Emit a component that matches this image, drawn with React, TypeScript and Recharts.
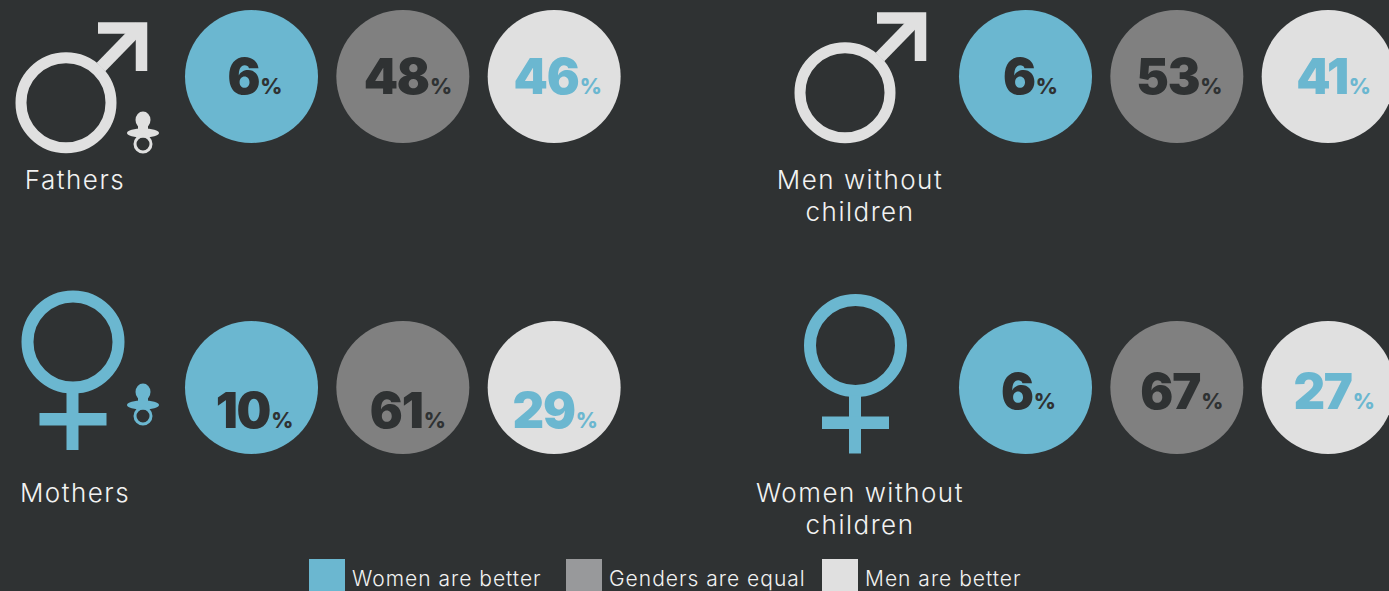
import React from 'react';
import { BarChart, Bar, XAxis, YAxis, Cell } from 'recharts';

const opinions = ['Women are better', 'Genders are equal', 'Men are better'];
const fathers = [6, 48, 46];
const menNoKids = [6, 53, 41];
const mothers = [10, 61, 29];
const womenNoKids = [6, 67, 27];

const BG = '#2f3233';
const BLUE = '#6bb7d0';
const GREY = '#808080';
const LIGHT = '#e0e0e0';
const circleFill = [BLUE, GREY, LIGHT];
const textFill = [BG, BG, BLUE];
const legendFill = [BLUE, '#98999b', LIGHT];

const LABEL_FONT = 'Inter, sans-serif';
const NUM_FONT = 'Inter, sans-serif';
const CHART_W = 454;
const CHART_H = 133;

// left/top of each block of three circles, plus how far the numbers sit off centre
const panels = [
  { values: fathers, left: 175.8, top: 10, dy: 17.5, nudge: [3.5, 5, 3.5] },
  { values: menNoKids, left: 949.5, top: 10, dy: 17.5, nudge: [5, 2.5, 5.5] },
  { values: mothers, left: 175.8, top: 320.5, dy: 40, nudge: [3, 5, 1] },
  { values: womenNoKids, left: 949.5, top: 320.5, dy: 21, nudge: [3, 5, 6] },
];

const labels = [
  { lines: ['Fathers'], x: 75, y: 189 },
  { lines: ['Men without', 'children'], x: 860, y: 189 },
  { lines: ['Mothers'], x: 75, y: 502 },
  { lines: ['Women without', 'children'], x: 860, y: 502 },
];

const legendX = [309, 566, 822];

function Bubble(props: any) {
  const { x, width, index, value, dy, nudge } = props;
  const cx = x + width / 2;
  const cy = CHART_H / 2;
  return (
    <g>
      <circle cx={cx} cy={cy} r={66.5} fill={circleFill[index]} />
      <text x={cx + nudge[index]} y={cy + dy} textAnchor="middle" fill={textFill[index]} fontFamily={NUM_FONT}>
        <tspan fontSize={49} fontWeight={900} letterSpacing={-1.2}>{value}</tspan>
        <tspan fontSize={21.5} fontWeight={800} dx={1}>%</tspan>
      </text>
    </g>
  );
}

function Panel({ values, left, top, dy, nudge }: any) {
  const data = opinions.map((opinion, i) => ({ opinion, share: values[i] }));
  return (
    <div style={{ position: 'absolute', left, top }}>
      <BarChart width={CHART_W} height={CHART_H} data={data} margin={{ top: 0, right: 0, bottom: 0, left: 0 }} barCategoryGap={0}>
        <XAxis dataKey="opinion" hide />
        <YAxis hide domain={[0, 100]} />
        <Bar
          dataKey="share"
          isAnimationActive={false}
          shape={(p: any) => <Bubble {...p} value={p.share} dy={dy} nudge={nudge} />}
        >
          {data.map((d, i) => <Cell key={d.opinion} fill={circleFill[i]} />)}
        </Bar>
      </BarChart>
    </div>
  );
}

function Male({ dx, dy }: { dx: number; dy: number }) {
  return (
    <g transform={`translate(${dx} ${dy})`} fill="none" stroke={LIGHT}>
      <circle cx={66} cy={102.7} r={45} strokeWidth={11} />
      <line x1={101} y1={67} x2={140} y2={27} strokeWidth={12} />
      <polyline points="98,28 141.5,28 141.5,71" strokeWidth={11.5} />
    </g>
  );
}

function Female({ dx, dy }: { dx: number; dy: number }) {
  return (
    <g transform={`translate(${dx} ${dy})`} fill="none" stroke={BLUE}>
      <circle cx={73} cy={342} r={45.5} strokeWidth={12} />
      <line x1={72.5} y1={392} x2={72.5} y2={450} strokeWidth={12} />
      <line x1={39.5} y1={419.3} x2={106.5} y2={419.3} strokeWidth={12.5} />
    </g>
  );
}

function Pacifier({ dy, color }: { dy: number; color: string }) {
  return (
    <g transform={`translate(0 ${dy})`}>
      <ellipse cx={143} cy={120} rx={7.5} ry={8.5} fill={color} />
      <rect x={138} y={122} width={10} height={10} fill={color} />
      <ellipse cx={143} cy={133} rx={16} ry={4.5} fill={color} />
      <circle cx={143} cy={144} r={8} fill="none" stroke={color} strokeWidth={3} />
    </g>
  );
}

export default function App() {
  return (
    <div style={{ position: 'absolute', left: 0, top: 0, width: 1389, height: 591, background: BG, overflow: 'hidden' }}>
      <svg width={1389} height={591} style={{ position: 'absolute', left: 0, top: 0 }}>
        <Male dx={0} dy={0} />
        <Male dx={779} dy={-10} />
        <Female dx={0} dy={0} />
        <Female dx={782.5} dy={3.5} />
        <Pacifier dy={0} color={LIGHT} />
        <Pacifier dy={272} color={BLUE} />
        {labels.map((l) => (
          <text key={l.lines[0]} textAnchor="middle" fill="#f2f2f2" fontFamily={LABEL_FONT} fontWeight={300} fontSize={26} letterSpacing={1.5}>
            {l.lines.map((line, i) => <tspan key={line} x={l.x} y={l.y + i * 32}>{line}</tspan>)}
          </text>
        ))}
        {opinions.map((o, i) => (
          <g key={o}>
            <rect x={legendX[i]} y={559} width={36} height={32} fill={legendFill[i]} />
            <text x={legendX[i] + 43} y={586} fill="#f2f2f2" fontFamily={LABEL_FONT} fontWeight={300} fontSize={21} letterSpacing={1}>{o}</text>
          </g>
        ))}
      </svg>
      {panels.map((p) => <Panel key={`${p.left}-${p.top}`} {...p} />)}
    </div>
  );
}
